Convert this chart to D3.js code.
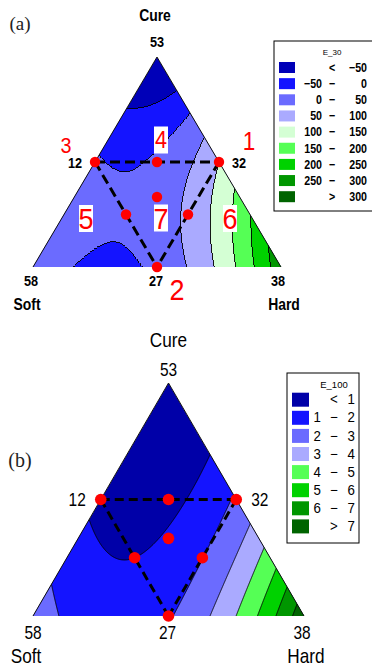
<!DOCTYPE html>
<html>
<head>
<meta charset="utf-8">
<script src="https://cdn.jsdelivr.net/npm/d3@7"></script>
<style>
  body { margin: 0; background: #fff; }
  svg { display: block; }
</style>
</head>
<body>
<svg id="chart" width="372" height="666"></svg>
<script>
// ---- mixture design runs (fractions of the Cure / Soft / Hard simplex) ----
const runIds   = ["1", "2", "3", "4", "5", "6", "7"];
const runCure  = [0.5, 0,   0.5, 0.5,  0.25, 0.25, 1 / 3];
const runSoft  = [0,   0.5, 0.5, 0.25, 0.5,  0.25, 1 / 3];
const runHard  = [0.5, 0.5, 0,   0.25, 0.25, 0.5,  1 / 3];

// ---- measured responses at the runs ----
const e30  = [100, 12, 6, 7.85, 7.0, 60.6, 21.5];
const e100 = [2.15, 1.91, 0.78, 0.77, 1.0, 1.98, 1.11];

// ---- contour levels and band colours ----
const levels30  = [-50, 0, 50, 100, 150, 200, 250, 300];
const levels100 = [1, 2, 3, 4, 5, 6, 7];
const colors30  = ["#0000b8", "#1414ff", "#6b6bff", "#aaaaff", "#d4ffd4", "#55ff55", "#00d200", "#009600", "#006400"];
const colors100 = ["#0000a8", "#1414ff", "#6b6bff", "#aaaaff", "#55ff55", "#00d200", "#009600", "#006400"];

// ---- axis text ----
const componentNames = ["Cure", "Soft", "Hard"];
const vertexTicks    = ["53", "58", "38"];   // Cure, Soft, Hard vertices
const edgeTicks      = ["12", "27", "32"];   // Cure-Soft, Soft-Hard, Cure-Hard midpoints
const panelTags      = ["(a)", "(b)"];
const legendTitles   = ["E_30", "E_100"];

const MINUS = "\u2212";
const fmt = v => (v < 0 ? MINUS + Math.abs(v) : String(v));
const SANS = "'Liberation Sans', Arial, sans-serif";

const svg = d3.select("#chart");
const defs = svg.append("defs");

// ---- special cubic Scheffé model in pseudo-components ----
function pseudoTerms(c, s, h) {
  const a = 1 - 2 * h, b = 1 - 2 * s, g = 1 - 2 * c;
  return [a, b, g, a * b, a * g, b * g, a * b * g];
}
function solve(A, y) {
  const n = A.length;
  const M = A.map((row, i) => row.concat([y[i]]));
  for (let k = 0; k < n; k++) {
    let p = k;
    for (let i = k + 1; i < n; i++) if (Math.abs(M[i][k]) > Math.abs(M[p][k])) p = i;
    [M[k], M[p]] = [M[p], M[k]];
    for (let i = k + 1; i < n; i++) {
      const r = M[i][k] / M[k][k];
      for (let j = k; j <= n; j++) M[i][j] -= r * M[k][j];
    }
  }
  const x = new Array(n).fill(0);
  for (let i = n - 1; i >= 0; i--) {
    let s = M[i][n];
    for (let j = i + 1; j < n; j++) s -= M[i][j] * x[j];
    x[i] = s / M[i][i];
  }
  return x;
}
function fitModel(resp) {
  const X = runCure.map((c, i) => pseudoTerms(c, runSoft[i], runHard[i]));
  const beta = solve(X, resp);
  return (c, s, h) => d3.sum(pseudoTerms(c, s, h), (t, k) => t * beta[k]);
}

// condensed text: plain sans squeezed horizontally
function narrowText(parent, str, px, py, opts) {
  return parent.append("text")
    .attr("transform", `translate(${px},${py}) scale(${opts.sx},1)`)
    .attr("text-anchor", opts.anchor || "middle")
    .attr("dominant-baseline", "central")
    .attr("font-family", SANS)
    .attr("font-weight", opts.weight || "normal")
    .attr("font-size", opts.size)
    .attr("fill", "#000")
    .text(str);
}

function drawPanel(cfg) {
  const g = svg.append("g");
  const x = d3.scaleLinear().domain([0, 1]).range([cfg.left[0], cfg.right[0]]);
  const y = d3.scaleLinear().domain([0, 1]).range([cfg.left[1], cfg.apexY]);
  const pos = (c, s, h) => [x(h + c / 2), y(c)];
  const f = fitModel(cfg.values);

  const corners = [pos(1, 0, 0), pos(0, 1, 0), pos(0, 0, 1)];
  const triD = "M" + corners.map(p => p.join(",")).join("L") + "Z";
  defs.append("clipPath").attr("id", "clip-" + cfg.id).append("path").attr("d", triD);

  // sample the fitted surface on a pixel grid covering the triangle
  const gx0 = Math.floor(cfg.left[0]) - 2, gy0 = Math.floor(cfg.apexY) - 2;
  const nx = Math.ceil(cfg.right[0]) + 2 - gx0, ny = Math.ceil(cfg.left[1]) + 2 - gy0;
  const grid = new Array(nx * ny);
  for (let j = 0; j < ny; j++) {
    for (let i = 0; i < nx; i++) {
      const c = y.invert(gy0 + j + 0.5);
      const h = x.invert(gx0 + i + 0.5) - c / 2;
      grid[j * nx + i] = f(c, 1 - c - h, h);
    }
  }
  const contours = d3.contours().size([nx, ny]).thresholds(cfg.levels)(grid);
  const geo = d3.geoPath(d3.geoIdentity().translate([gx0, gy0]));

  const bands = g.append("g").attr("clip-path", `url(#clip-${cfg.id})`)
    .attr("shape-rendering", cfg.crisp ? "crispEdges" : null);
  bands.append("path").attr("d", triD).attr("fill", cfg.colors[0]);
  bands.selectAll("path.band").data(contours).join("path")
    .attr("class", "band")
    .attr("d", geo)
    .attr("fill", (d, i) => cfg.colors[i + 1])
    .attr("stroke", "#000")
    .attr("stroke-width", 0.9);

  // side edges of the simplex
  g.append("path")
    .attr("d", "M" + [corners[1], corners[0], corners[2]].map(p => p.join(",")).join("L"))
    .attr("fill", "none").attr("stroke", "#111").attr("stroke-width", 1);

  // design region (dashed) joining runs 3, 1 and 2
  const runPos = runCure.map((c, i) => pos(c, runSoft[i], runHard[i]));
  const segs = [[2, 0], [2, 1], [0, 1]];
  g.selectAll("line.dash").data(segs).join("line")
    .attr("class", "dash")
    .attr("x1", d => runPos[d[0]][0]).attr("y1", d => runPos[d[0]][1])
    .attr("x2", d => runPos[d[1]][0]).attr("y2", d => runPos[d[1]][1])
    .attr("stroke", "#000").attr("stroke-width", 3)
    .attr("stroke-dasharray", cfg.dash);

  g.selectAll("circle.run").data(runPos).join("circle")
    .attr("class", "run")
    .attr("cx", d => d[0]).attr("cy", d => d[1]).attr("r", cfg.dotR)
    .attr("fill", "#ff0000");

  // run numbers
  if (cfg.runLabels) {
    cfg.runLabels.forEach((L, i) => {
      const cx = runPos[i][0] + L.dx, cy = runPos[i][1] + L.dy;
      if (L.box) {
        g.append("rect").attr("x", cx - 7).attr("y", cy - 13.5)
          .attr("width", 14).attr("height", 27).attr("fill", "#fff");
      }
      g.append("text")
        .attr("transform", `translate(${cx},${cy}) scale(0.9,1)`)
        .attr("text-anchor", "middle").attr("dominant-baseline", "central")
        .attr("font-family", SANS)
        .attr("font-size", L.size).attr("fill", "#ff0000")
        .text(runIds[i]);
    });
  }

  // axis text
  const t = cfg.text;
  const nameOpt = { sx: t.sx, size: t.nameSize, weight: t.weight };
  const numOpt = { sx: t.sx, size: t.numSize, weight: t.weight };
  const apex = corners[0], sv = corners[1], hv = corners[2];
  narrowText(g, componentNames[0], apex[0] + t.nameDx, t.cureY, nameOpt);
  narrowText(g, componentNames[1], t.softX, t.nameY, nameOpt);
  narrowText(g, componentNames[2], t.hardX, t.nameY, nameOpt);
  narrowText(g, vertexTicks[0], apex[0], apex[1] - t.apexGap, numOpt);
  narrowText(g, vertexTicks[1], sv[0] + t.cornerDx[0], sv[1] + t.cornerGap, numOpt);
  narrowText(g, vertexTicks[2], hv[0] + t.cornerDx[1], hv[1] + t.cornerGap, numOpt);
  const mCS = pos(0.5, 0.5, 0), mSH = pos(0, 0.5, 0.5), mCH = pos(0.5, 0, 0.5);
  narrowText(g, edgeTicks[0], mCS[0] - t.midGap, mCS[1] + 1, Object.assign({ anchor: "end" }, numOpt));
  narrowText(g, edgeTicks[1], mSH[0] - 1, mSH[1] + t.cornerGap, numOpt);
  narrowText(g, edgeTicks[2], mCH[0] + t.midGap, mCH[1] + 1, Object.assign({ anchor: "start" }, numOpt));

  g.append("text").attr("x", t.tag[0]).attr("y", t.tag[1])
    .attr("text-anchor", "middle").attr("dominant-baseline", "central")
    .attr("font-family", "'Liberation Serif', 'Times New Roman', serif")
    .attr("font-size", t.tagSize).attr("fill", "#222").text(cfg.tag);

  // legend
  const lg = cfg.legend;
  const leg = svg.append("g");
  leg.append("rect").attr("x", lg.x).attr("y", lg.y).attr("width", lg.w).attr("height", lg.h)
    .attr("fill", "#fff").attr("stroke", "#000").attr("stroke-width", 1);
  leg.append("text").attr("x", lg.titleX).attr("y", lg.y + lg.titleDy)
    .attr("text-anchor", "middle").attr("dominant-baseline", "central")
    .attr("font-family", SANS)
    .attr("font-size", lg.titleSize).attr("fill", "#000").text(cfg.legendTitle);
  const lv = cfg.levels;
  const rows = cfg.colors.map((col, k) => {
    if (k === 0) return ["", "<", fmt(lv[0])];
    if (k === cfg.colors.length - 1) return ["", ">", fmt(lv[lv.length - 1])];
    return [fmt(lv[k - 1]), MINUS, fmt(lv[k])];
  });
  const rg = leg.selectAll("g.row").data(rows).join("g").attr("class", "row")
    .attr("transform", (d, k) => `translate(0,${lg.rowY0 + k * lg.rowStep})`);
  rg.append("rect").attr("x", lg.swX).attr("y", -lg.swH / 2).attr("width", lg.swW).attr("height", lg.swH)
    .attr("fill", (d, k) => cfg.colors[k]);
  const txt = (sel, col, xx, anchor) => sel.append("text")
    .attr("transform", `translate(${xx},0) scale(${lg.sx},1)`)
    .attr("text-anchor", anchor)
    .attr("dominant-baseline", "central")
    .attr("font-family", SANS).attr("font-weight", lg.weight)
    .attr("font-size", lg.size).attr("fill", "#000")
    .text(d => d[col]);
  txt(rg, 0, lg.c0, "end");
  txt(rg, 1, lg.c1, "middle");
  txt(rg, 2, lg.c2, "end");
}

drawPanel({
  id: "a", tag: panelTags[0], legendTitle: legendTitles[0],
  left: [33, 267], right: [281, 267], apexY: 57,
  values: e30, levels: levels30, colors: colors30,
  crisp: true, dash: "10,5", dotR: 5.2,
  runLabels: [
    { dx: 30, dy: -21, size: 25 },
    { dx: 20, dy: 22, size: 30 },
    { dx: -29, dy: -17, size: 22 },
    { dx: 4, dy: -22, size: 24, box: true },
    { dx: -40, dy: 4, size: 30, box: true },
    { dx: 42, dy: 4, size: 30, box: true },
    { dx: 4, dy: 21, size: 30, box: true }
  ],
  text: {
    weight: "bold", sx: 0.82, nameSize: 17, numSize: 15.5, nameDx: -2,
    cureY: 15, nameY: 304, softX: 27, hardX: 284,
    apexGap: 15, cornerGap: 14, cornerDx: [-2, -3], midGap: 13,
    tag: [20, 23], tagSize: 19
  },
  legend: {
    x: 274, y: 41, w: 102, h: 170, titleX: 332, titleDy: 11, titleSize: 8,
    rowY0: 67.5, rowStep: 16.15, swX: 279, swW: 16, swH: 11,
    c0: 322, c1: 332, c2: 367, sx: 0.82,
    weight: "bold", size: 13
  }
});

drawPanel({
  id: "b", tag: panelTags[1], legendTitle: legendTitles[1],
  left: [33, 616], right: [304, 616], apexY: 383,
  values: e100, levels: levels100, colors: colors100,
  crisp: false, dash: "9,5", dotR: 5.8,
  runLabels: null,
  text: {
    weight: "normal", sx: 0.86, nameSize: 20, numSize: 18, nameDx: 0,
    cureY: 340, nameY: 656, softX: 26, hardX: 306,
    apexGap: 13, cornerGap: 17, cornerDx: [0, -2], midGap: 15,
    tag: [20, 460], tagSize: 20
  },
  legend: {
    x: 287, y: 373, w: 72, h: 170, titleX: 334, titleDy: 11, titleSize: 9.5,
    rowY0: 399.7, rowStep: 18.1, swX: 292, swW: 17, swH: 14,
    c0: 321, c1: 334, c2: 355, sx: 0.95,
    weight: "normal", size: 14
  }
});
</script>
</body>
</html>
